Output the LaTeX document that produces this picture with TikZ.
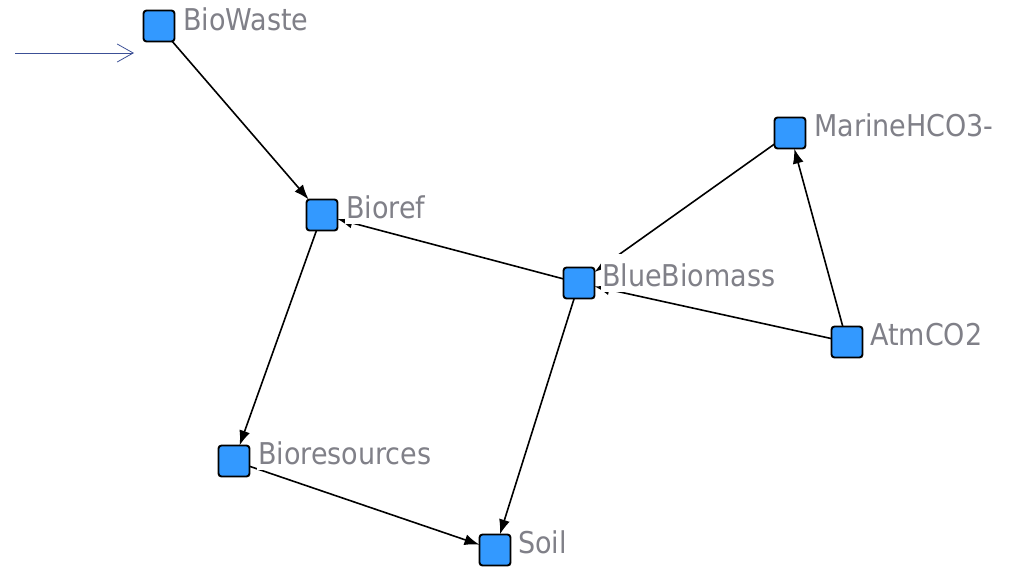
\documentclass[tikz,border=0pt]{standalone}
\usepackage{fontspec}
\setmainfont{DejaVu Sans Condensed}
\usetikzlibrary{arrows.meta}
\definecolor{boxblue}{RGB}{51,153,255}
\definecolor{labelgray}{RGB}{128,128,136}
\definecolor{inflow}{RGB}{60,80,150}
\tikzset{
  stock/.style={draw=black, line width=1.9pt, fill=boxblue, rounded corners=3pt,
    minimum size=31pt, inner sep=0pt, outer sep=0pt},
  tag/.style={anchor=base west, fill=white, inner sep=1.5pt, text=labelgray,
    text height=31pt, text depth=4.5pt, font=\fontsize{30}{32}\selectfont},
  link/.style={draw=black, line width=1.6pt, -{Latex[length=15pt,width=11pt]}},
  inlet/.style={draw=inflow, line width=0.8pt, -{Straight Barb[length=16pt,width=18pt]}}
}
\begin{document}
\begin{tikzpicture}[x=1pt,y=-1pt]
\useasboundingbox (0,0) rectangle (1016,568);

% stocks
\node[stock] (biowaste) at (159,26) {};
\node[stock] (bioref) at (322,215) {};
\node[stock] (blue) at (579,283) {};
\node[stock] (marine) at (790,133) {};
\node[stock] (atm) at (847,342) {};
\node[stock] (bioresources) at (234,461) {};
\node[stock] (soil) at (495,550) {};

% inflow from outside
\coordinate (src) at (15,53);
\coordinate (snk) at (134,53);
\draw[inlet] (src) -- (snk);

% flows between stocks
\draw[link] (biowaste) -- (bioref);
\draw[link] (blue) -- (bioref);
\draw[link] (bioref) -- (bioresources);
\draw[link] (bioresources) -- (soil);
\draw[link] (blue) -- (soil);
\draw[link] (atm) -- (blue);
\draw[link] (atm) -- (marine);
\draw[link] (marine) -- (blue);

% names
\node[tag] (lbiowaste) at ([xshift=7pt,yshift=-4pt]biowaste.east) {BioWaste};
\node[tag] (lbioref) at ([xshift=7pt,yshift=-3pt]bioref.east) {Bioref};
\node[tag] (lblue) at ([xshift=6pt,yshift=-3pt]blue.east) {BlueBiomass};
\node[tag] (lmarine) at ([xshift=7pt,yshift=-3pt]marine.east) {MarineHCO3-};
\node[tag] (latm) at ([xshift=6pt,yshift=-3pt]atm.east) {AtmCO2};
\node[tag] (lbioresources) at ([xshift=7pt,yshift=-3pt]bioresources.east) {Bioresources};
\node[tag] (lsoil) at ([xshift=6pt,yshift=-3pt]soil.east) {Soil};
\end{tikzpicture}
\end{document}
